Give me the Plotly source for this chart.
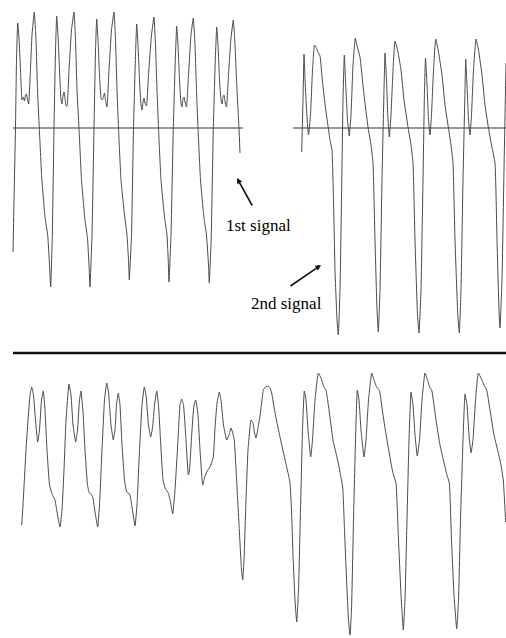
import plotly.graph_objects as go

# ---- 1st signal (time, amplitude) ----
sig1_t = [13, 14, 15.5, 16.5, 17.7, 19, 20.5, 22, 23.3, 24.5, 25.5, 26.5, 27.5, 28.7, 30, 32, 34.3, 36, 37.5, 39.3, 41.7, 45, 47.7, 49.5, 50.7,
          52.3, 54, 55.5, 56.7, 58, 59.5, 61, 62, 63, 64, 65, 66, 67, 69, 71.5, 74, 75.5, 77, 79, 81.5, 85, 87.5, 89, 90,
          92, 94, 95.5, 96.7, 98, 99.5, 101, 102, 103.5, 104.5, 105.5, 107, 109, 111.5, 114, 115.5, 117, 118.5, 121, 124.5, 127, 128.5, 129.3,
          131.5, 133.5, 135.5, 136.7, 138, 139.5, 141, 142, 143, 144, 145, 146.5, 148.5, 151.5, 154, 155.5, 157, 158.5, 161, 164.5, 167, 168.3, 169,
          171, 173.3, 175.3, 176.7, 178, 179.5, 181, 182, 183, 184, 185, 186.5, 188.5, 191, 193.3, 195, 196.5, 198, 200.5, 204, 206.5, 208.5, 209.3,
          211.3, 213.3, 215.3, 216.7, 218, 219.5, 221, 222, 223, 224, 225, 226.5, 228.5, 231, 233.3, 235, 237, 239, 240]
sig1_amp = [386, 438, 510, 578, 615, 600, 568, 538, 541, 537, 543, 544, 538, 534, 558, 603, 626, 598, 548, 510, 461, 421, 403, 373, 351,
            403, 510, 588, 622, 603, 568, 538, 534, 542, 546, 540, 532, 532, 568, 608, 626, 598, 548, 510, 458, 418, 400, 373, 351,
            403, 510, 588, 619, 598, 563, 540, 538, 541, 545, 538, 531, 568, 608, 626, 598, 548, 510, 458, 423, 403, 378, 358,
            403, 510, 583, 614, 593, 558, 533, 528, 536, 540, 535, 532, 563, 603, 621, 593, 548, 510, 458, 421, 403, 376, 356,
            403, 510, 578, 612, 593, 558, 535, 531, 539, 541, 536, 531, 563, 603, 620, 593, 548, 510, 458, 420, 403, 373, 355,
            403, 510, 578, 611, 593, 558, 538, 534, 541, 543, 536, 531, 563, 600, 618, 593, 548, 510, 485]

# ---- 2nd signal ----
sig2_t = [301.7, 303, 304, 305.5, 307.5, 308.5, 310.5, 312.5, 314.5, 316.5, 318, 320, 322.5, 325.5, 328.3, 330, 332, 333.5, 335, 337, 338.3,
          340, 341.5, 343, 344.3, 345.5, 347.5, 349.3, 351, 353, 355.3, 357.5, 360, 364, 368, 371, 373, 375, 377, 378.3,
          380, 382, 384, 385, 386.5, 388, 389.3, 391, 393, 395, 398, 401, 404, 408, 411, 413, 415, 417.5, 419,
          421, 423, 424.5, 425.5, 427, 428.5, 430, 431.5, 433.5, 435.7, 438.5, 442, 445, 448.3, 451, 453, 455, 457.8, 459.3,
          461, 463, 465, 465.7, 467, 468.5, 470, 471.5, 473.5, 476, 478.5, 482, 485, 488.3, 491.5, 495, 497, 499, 500,
          502, 504, 506]
sig2_amp = [486, 538, 584, 548, 513, 503, 523, 568, 593, 590, 586, 582, 556, 530, 510, 498, 488, 438, 368, 318, 303,
            348, 438, 538, 583, 558, 518, 502, 523, 573, 600, 590, 581, 543, 511, 493, 475, 398, 328, 306,
            348, 458, 548, 585, 558, 518, 501, 523, 568, 597, 586, 568, 538, 511, 493, 475, 398, 323, 305,
            348, 458, 548, 580, 553, 518, 503, 523, 568, 599, 586, 563, 533, 511, 493, 475, 398, 323, 305,
            348, 458, 548, 579, 553, 518, 503, 523, 568, 599, 588, 563, 533, 511, 493, 475, 398, 328, 310,
            358, 468, 575]

# ---- combined signal (bottom) ----
mix_t = [21.7, 23, 26, 28, 30, 31.7, 33.5, 35.5, 37.7, 39.5, 41.5, 43.3, 45, 47, 49.5, 51.7, 53, 55, 57, 60,
         62, 64, 66, 69, 71, 73, 75.7, 77.5, 79.5, 81, 83, 85, 87.5, 89.3, 91, 92.7, 95, 97.7,
         99.5, 102, 104.5, 106.7, 108.5, 111, 113.3, 115, 116.5, 118.3, 120, 122, 124.5, 126.7, 128.5, 130, 132.5, 135,
         137, 139.5, 142, 144.3, 146, 148.5, 150.7, 152.5, 154.5, 156.7, 158.5, 160.5, 163, 165, 168.3, 170.5, 172.7,
         175, 178, 180, 181.7, 183.5, 186, 188.3, 189.5, 192, 194, 195.7, 198, 200, 202.7, 204.5, 206.7, 210, 213.3,
         215, 217, 219.3, 221, 223.5, 226.7, 229, 231, 232.8, 234.3, 236.5, 239.3, 241.5, 242.7,
         244, 246, 248, 251, 253, 254.5, 256, 258, 260, 262, 263.3, 265.5, 268.3, 270, 271.7, 275, 280, 283.5, 286.7, 288.5, 290,
         291.5, 293, 295, 296.7, 298.5, 300.5, 302.5, 304.3, 306, 308, 310.7, 312.5, 315, 318.3, 321, 324, 326, 329, 333, 338.3, 340.5, 342.7,
         344.5, 347, 348.5, 350, 351.5, 353.5, 355.5, 357.3, 359, 361, 364, 366, 368.5, 371.7, 374, 377, 379.3, 383, 387, 391.7, 393.5, 396,
         398.5, 401, 403.3, 405, 407, 409, 411, 413, 415, 417.3, 419.5, 422, 425, 427.5, 430, 431.7, 436, 440, 445, 447, 449.3,
         451.5, 454, 456.7, 458.5, 460.5, 463, 465, 467, 469, 471, 473, 475.5, 478.3, 481, 484, 486.7, 490, 494, 498.3, 501, 503.3, 505, 505.7]
mix_amp = [113, 133, 188, 218, 243, 251, 243, 218, 196, 208, 238, 247, 228, 188, 153, 145, 142, 138, 126, 111,
           128, 168, 218, 254, 243, 213, 196, 208, 238, 247, 226, 188, 153, 145, 144, 141, 126, 111,
           133, 188, 238, 255, 246, 213, 198, 208, 233, 245, 233, 193, 158, 146, 145, 143, 128, 112,
           133, 188, 233, 251, 243, 213, 201, 210, 233, 247, 233, 198, 158, 150, 145, 136, 124,
           148, 198, 233, 239, 233, 198, 163, 168, 208, 233, 238, 223, 188, 153, 160, 166, 171, 181,
           210, 235, 246, 238, 213, 198, 203, 210, 205, 198, 160, 108, 68, 58,
           78, 138, 188, 218, 215, 205, 200, 210, 222, 238, 248, 251, 252, 250, 245, 225, 201, 185, 171, 163, 155,
           128, 83, 38, 16, 48, 128, 208, 247, 238, 208, 181, 198, 238, 265, 260, 251, 248, 228, 198, 175, 163, 151,
           108, 48, 18, 3, 28, 118, 198, 248, 238, 208, 181, 198, 238, 265, 258, 250, 248, 223, 198, 171, 163, 155,
           98, 43, 8, 38, 118, 198, 246, 233, 203, 182, 198, 238, 265, 258, 250, 248, 218, 193, 171, 163, 155,
           98, 43, 9, 38, 118, 198, 244, 233, 203, 185, 198, 238, 265, 260, 253, 248, 228, 203, 185, 173, 158, 128, 116]

# reference lines
base1_t = [13, 243]
base2_t = [293, 506]
baseline_amp = 510
separator_t = [13, 506]
separator_amp = 285

labels = ["1st signal", "2nd signal"]

line_col = "#4a4a4a"
sig_line = dict(color=line_col, width=1, shape="spline", smoothing=0.35)
fig = go.Figure()
fig.add_trace(go.Scatter(x=base1_t, y=[baseline_amp] * 2, mode="lines", line=dict(color="#333", width=1)))
fig.add_trace(go.Scatter(x=base2_t, y=[baseline_amp] * 2, mode="lines", line=dict(color="#333", width=1)))
fig.add_trace(go.Scatter(x=separator_t, y=[separator_amp] * 2, mode="lines", line=dict(color="#111", width=2.5)))
fig.add_trace(go.Scatter(x=sig1_t, y=sig1_amp, mode="lines", line=sig_line))
fig.add_trace(go.Scatter(x=sig2_t, y=sig2_amp, mode="lines", line=sig_line))
fig.add_trace(go.Scatter(x=mix_t, y=mix_amp, mode="lines", line=sig_line))

font = dict(family="Liberation Serif, Times New Roman, serif", size=17, color="black")
fig.add_annotation(x=258, y=413, text=labels[0], showarrow=False, font=font, xref="x", yref="y")
fig.add_annotation(x=286, y=335, text=labels[1], showarrow=False, font=font, xref="x", yref="y")
fig.add_annotation(x=237, y=460, ax=253, ay=431, axref="x", ayref="y", xref="x", yref="y", text="",
                   showarrow=True, arrowhead=2, arrowsize=0.7, arrowwidth=1.6, arrowcolor="#111")
fig.add_annotation(x=321, y=373, ax=289, ay=351, axref="x", ayref="y", xref="x", yref="y", text="",
                   showarrow=True, arrowhead=2, arrowsize=0.7, arrowwidth=1.6, arrowcolor="#111")

fig.update_layout(width=506, height=638, margin=dict(l=0, r=0, t=0, b=0),
                  paper_bgcolor="white", plot_bgcolor="white", showlegend=False)
fig.update_xaxes(range=[0, 506], visible=False, fixedrange=True)
fig.update_yaxes(range=[0, 638], visible=False, fixedrange=True)
fig.write_html("out.html", config={"responsive": False, "displayModeBar": False},
               post_script="document.body.style.margin='0';document.body.style.padding='0';document.body.style.overflow='hidden';")
